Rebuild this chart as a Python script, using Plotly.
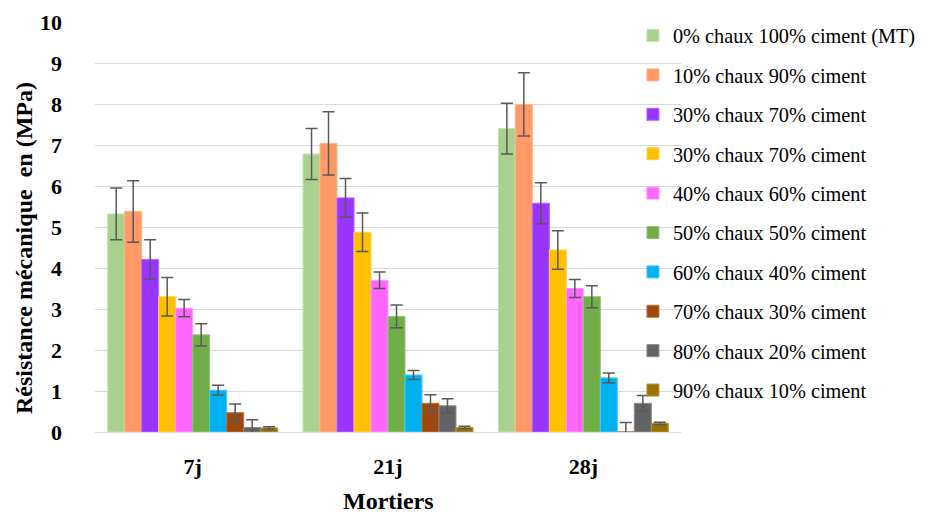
import plotly.graph_objects as go

ages = ["7j", "21j", "28j"]

mixes = [
    "0% chaux 100% ciment (MT)",
    "10% chaux 90% ciment",
    "30% chaux 70% ciment",
    "30% chaux 70% ciment",
    "40% chaux 60% ciment",
    "50% chaux 50% ciment",
    "60% chaux 40% ciment",
    "70% chaux 30% ciment",
    "80% chaux 20% ciment",
    "90% chaux 10% ciment",
]

# Compressive strength (MPa) per mix at 7j, 21j, 28j
strength_0 = [5.32, 6.78, 7.40]
strength_10 = [5.38, 7.04, 7.99]
strength_30a = [4.21, 5.71, 5.58]
strength_30b = [3.30, 4.87, 4.44]
strength_40 = [3.02, 3.70, 3.50]
strength_50 = [2.37, 2.82, 3.30]
strength_60 = [1.02, 1.39, 1.32]
strength_70 = [0.47, 0.70, 0.0]
strength_80 = [0.11, 0.64, 0.70]
strength_90 = [0.10, 0.11, 0.21]

# Standard deviations (MPa)
sd_0 = [0.63, 0.62, 0.62]
sd_10 = [0.75, 0.77, 0.77]
sd_30a = [0.48, 0.47, 0.50]
sd_30b = [0.47, 0.47, 0.47]
sd_40 = [0.21, 0.20, 0.22]
sd_50 = [0.27, 0.28, 0.27]
sd_60 = [0.12, 0.11, 0.12]
sd_70 = [0.21, 0.21, 0.23]
sd_80 = [0.19, 0.17, 0.19]
sd_90 = [0.03, 0.03, 0.03]

values = [strength_0, strength_10, strength_30a, strength_30b, strength_40,
          strength_50, strength_60, strength_70, strength_80, strength_90]
errors = [sd_0, sd_10, sd_30a, sd_30b, sd_40, sd_50, sd_60, sd_70, sd_80, sd_90]

colors = ["#A9D18E", "#FF9966", "#9933FF", "#FFC000", "#FF66FF",
          "#70AD47", "#00B0F0", "#9E480E", "#636363", "#997300"]
edges = ["#C5E0B4", "#FFB38F", "#B366FF", "#FFD24D", "#FF99FF",
         "#94C279", "#4DC8F5", "#B8703E", "#8A8A8A", "#B39440"]

fig = go.Figure()
for i, (name, vals, err) in enumerate(zip(mixes, values, errors)):
    fig.add_trace(go.Bar(
        x=ages, y=vals, name=name, legendgroup=f"g{i}",
        marker=dict(color=colors[i], line=dict(color=edges[i], width=1)),
        error_y=dict(type="data", array=err, visible=True,
                     color="#595959", thickness=1.5, width=6),
    ))

serif = "'Liberation Serif', 'Times New Roman', serif"

fig.update_layout(
    width=933, height=514,
    margin=dict(l=95, r=250, t=22, b=82),
    paper_bgcolor="white", plot_bgcolor="white",
    barmode="group", bargap=0.13, bargroupgap=0,
    font=dict(family=serif, color="black"),
    legend=dict(
        x=0.918, xanchor="left", y=1.015, yanchor="top",
        font=dict(family=serif, size=20.3, color="black"),
        bgcolor="rgba(0,0,0,0)", tracegroupgap=10,
        itemwidth=30, maxheight=510,
    ),
    xaxis=dict(
        showline=True, linecolor="#D9D9D9", linewidth=1, automargin=False,
        ticks="", tickfont=dict(family=serif, size=22, color="black", weight="bold"),
        ticklabelstandoff=15,
    ),
    yaxis=dict(
        range=[0, 10], dtick=1, showgrid=True, gridcolor="#D9D9D9", gridwidth=1,
        zeroline=False, showline=False, automargin=False,
        tickfont=dict(family=serif, size=22, color="black", weight="bold"),
        ticklabelstandoff=32,
    ),
    annotations=[
        dict(text="<b>Mortiers</b>", xref="paper", yref="paper",
             x=0.5, y=-0.168, xanchor="center", yanchor="middle",
             showarrow=False, font=dict(family=serif, size=24, color="black")),
        dict(text="<b>Résistance mécanique  en (MPa)</b>", xref="paper", yref="paper",
             x=-0.12, y=0.448, xanchor="center", yanchor="middle", textangle=-90,
             showarrow=False, font=dict(family=serif, size=24, color="black")),
    ],
)

fig.write_html("out.html")
